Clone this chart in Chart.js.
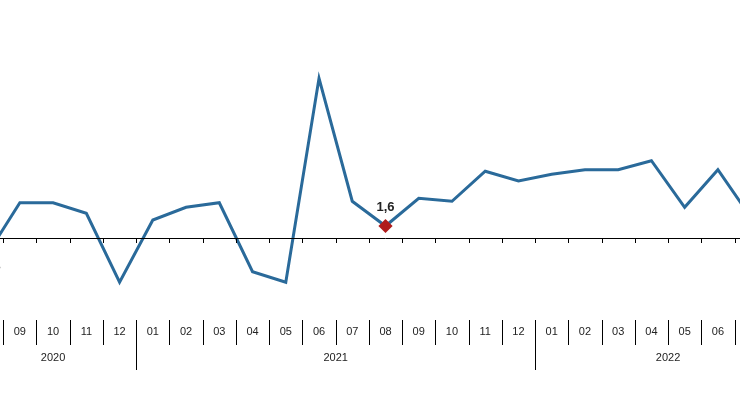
<!DOCTYPE html>
<html><head><meta charset="utf-8">
<script src="https://cdn.jsdelivr.net/npm/chart.js@4"></script>
<style>html,body{margin:0;padding:0;background:#fff;overflow:hidden;width:740px;height:400px}
#wrap{position:absolute;left:-30px;top:0;width:831px;height:400px}</style>
</head><body><div id="wrap"><canvas id="c" width="831" height="400"></canvas></div>
<script>
const months = ["08","09","10","11","12","01","02","03","04","05","06","07","08","09","10","11","12","01","02","03","04","05","06","07","08"];
const years = ["2020","2020","2020","2020","2020","2021","2021","2021","2021","2021","2021","2021","2021","2021","2021","2021","2021","2022","2022","2022","2022","2022","2022","2022","2022"];
const values = [-2.3,4.7,4.7,3.3,-5.9,2.4,4.1,4.7,-4.5,-5.9,21.3,4.9,1.6,5.3,4.9,8.9,7.6,8.5,9.1,9.1,10.3,4.1,9.1,2.7,5.0];
const labelled = {0:"-2,3",12:"1,6"};
const labels = months.map((m,i)=>m+"-"+years[i]);

const axisPlugin = {
  id:'axisPlugin',
  afterDatasetsDraw(chart){
    const ctx=chart.ctx, x=chart.scales.x, y=chart.scales.y;
    const y0=y.getPixelForValue(0);
    const w=(x.getPixelForValue(1)-x.getPixelForValue(0));
    ctx.save();
    ctx.strokeStyle='#000';ctx.lineWidth=1;
    ctx.beginPath();ctx.moveTo(0,y0+0.5);ctx.lineTo(chart.width,y0+0.5);ctx.stroke();
    ctx.font='11px Arial, "Liberation Sans"';ctx.fillStyle='#222';ctx.textAlign='center';ctx.textBaseline='middle';
    for(let i=0;i<months.length;i++){
      const cx=x.getPixelForValue(i), b=Math.round(cx-w/2)+0.5;
      ctx.beginPath();ctx.moveTo(b,y0);ctx.lineTo(b,y0+5);ctx.stroke();
      const yb = (i>0 && years[i]!==years[i-1]);
      ctx.beginPath();ctx.moveTo(b,320);ctx.lineTo(b,yb?370:345);ctx.stroke();
      ctx.fillText(months[i],cx,332);
    }
    const groups={};
    years.forEach((yr,i)=>{(groups[yr]=groups[yr]||[]).push(x.getPixelForValue(i));});
    for(const yr in groups){const g=groups[yr];ctx.fillText(yr,(g[0]+g[g.length-1])/2,358);}
    ctx.font='bold 13px Arial, "Liberation Sans"';ctx.fillStyle='#222';
    for(const k in labelled){
      const i=+k, px=x.getPixelForValue(i), py=y.getPixelForValue(values[i]);
      if(values[i]>=0) ctx.fillText(labelled[k],px,py-19); else ctx.fillText(labelled[k],px+3,py+11);
    }
    ctx.restore();
  }
};

new Chart(document.getElementById('c'),{
  type:'line',
  data:{labels:labels,datasets:[{data:values,borderColor:'#2a6a9a',borderWidth:3,tension:0,
    pointRadius:values.map((v,i)=>i===12?5:0),pointStyle:'rectRot',
    pointBackgroundColor:'#b01c1c',pointBorderColor:'#b01c1c'}]},
  options:{responsive:false,animation:false,devicePixelRatio:1,
    layout:{padding:{top:58,bottom:102,left:0,right:0}},
    plugins:{legend:{display:false},tooltip:{enabled:false}},
    scales:{x:{display:false,offset:true},y:{display:false,min:-8,max:24}}},
  plugins:[axisPlugin]
});
</script></body></html>
